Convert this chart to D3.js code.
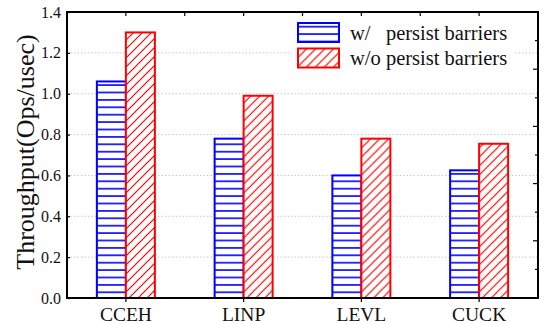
<!DOCTYPE html>
<html>
<head>
<meta charset="utf-8">
<script src="https://cdn.jsdelivr.net/npm/d3@7"></script>
<style>
  body { margin: 0; background: #fff; }
</style>
</head>
<body>
<svg id="chart" width="544" height="324"></svg>
<script>
// data
const categories = ["CCEH", "LINP", "LEVL", "CUCK"];
const seriesNames = ["w/   persist barriers", "w/o persist barriers"];
const withBarriers = [1.06, 0.78, 0.60, 0.625];
const withoutBarriers = [1.30, 0.99, 0.78, 0.755];
const yTicks = [0.0, 0.2, 0.4, 0.6, 0.8, 1.0, 1.2, 1.4];

const width = 544, height = 324;
const margin = { top: 12, right: 6, bottom: 26, left: 67 };
const plotW = width - margin.left - margin.right;
const plotH = height - margin.top - margin.bottom;
const serif = "Liberation Serif";

const svg = d3.select("#chart");

// hatch patterns
const defs = svg.append("defs");
const hp = defs.append("pattern")
    .attr("id", "hatch-h")
    .attr("patternUnits", "userSpaceOnUse")
    .attr("width", 8).attr("height", 7.4);
hp.append("rect").attr("width", 8).attr("height", 7.4).attr("fill", "#fff");
hp.append("line")
    .attr("x1", 0).attr("x2", 8).attr("y1", 3.7).attr("y2", 3.7)
    .attr("stroke", "#0000ff").attr("stroke-width", 1.6);

const dp = defs.append("pattern")
    .attr("id", "hatch-d")
    .attr("patternUnits", "userSpaceOnUse")
    .attr("width", 9).attr("height", 9);
dp.append("rect").attr("width", 9).attr("height", 9).attr("fill", "#fff");
dp.append("path")
    .attr("d", "M0,9 L9,0 M-2,2 L2,-2 M7,11 L11,7")
    .attr("stroke", "#ff0000").attr("stroke-width", 1.2);

const data = categories.map((c, i) => ({
    cat: c,
    values: [
        { key: 0, value: withBarriers[i] },
        { key: 1, value: withoutBarriers[i] }
    ]
}));

const x = d3.scaleBand()
    .domain(categories)
    .range([margin.left, margin.left + plotW])
    .padding(0);

const barW = 29;
const x1 = d3.scaleBand()
    .domain([0, 1])
    .range([x.bandwidth() / 2 - barW, x.bandwidth() / 2 + barW]);

const y = d3.scaleLinear()
    .domain([0, 1.4])
    .range([margin.top + plotH, margin.top]);

const colors = ["#0000ff", "#ff0000"];
const fills = ["url(#hatch-h)", "url(#hatch-d)"];

// dotted grid
svg.append("g")
    .selectAll("line")
    .data(yTicks.filter(d => d > 0 && d < 1.4))
    .join("line")
    .attr("x1", margin.left)
    .attr("x2", margin.left + plotW)
    .attr("y1", d => y(d))
    .attr("y2", d => y(d))
    .attr("stroke", "#c8c8c8")
    .attr("stroke-width", 1)
    .attr("stroke-dasharray", "1.5,2");

// bars
const groups = svg.append("g")
    .selectAll("g")
    .data(data)
    .join("g")
    .attr("transform", d => `translate(${x(d.cat)},0)`);

groups.selectAll("rect")
    .data(d => d.values)
    .join("rect")
    .attr("x", d => x1(d.key))
    .attr("width", x1.bandwidth())
    .attr("y", d => y(d.value))
    .attr("height", d => y(0) - y(d.value))
    .attr("fill", d => fills[d.key])
    .attr("stroke", d => colors[d.key])
    .attr("stroke-width", 2);

// axes
const axisLeft = svg.append("g")
    .attr("transform", `translate(${margin.left},0)`)
    .attr("font-family", serif)
    .call(d3.axisLeft(y).tickValues(yTicks).tickFormat(d3.format(".1f")).tickSizeInner(-3).tickSizeOuter(0).tickPadding(6));

axisLeft.attr("font-family", serif).attr("font-size", 16);
axisLeft.selectAll("text")
    .attr("fill", "#111")
    .style("font-family", serif);

const axisBottom = svg.append("g")
    .attr("transform", `translate(0,${margin.top + plotH})`)
    .call(d3.axisBottom(x).tickSizeInner(4).tickSizeOuter(0).tickPadding(5));

axisBottom.attr("font-family", serif).attr("font-size", 19.5);
axisBottom.selectAll("text")
    .attr("fill", "#111")
    .style("font-family", serif);

// top ticks at band centres and band edges
const topTicks = [];
categories.forEach((c, i) => {
    topTicks.push(x(c) + x.bandwidth() / 2);
    if (i > 0) topTicks.push(x(c));
});
svg.append("g")
    .selectAll("line")
    .data(topTicks)
    .join("line")
    .attr("x1", d => d).attr("x2", d => d)
    .attr("y1", margin.top).attr("y2", margin.top + 4)
    .attr("stroke", "#000").attr("stroke-width", 1.2);

// right ticks (own 10-step scale)
const yr = d3.scaleLinear().domain([0, 10]).range([margin.top + plotH, margin.top]);
svg.append("g")
    .selectAll("line")
    .data(d3.range(1, 10))
    .join("line")
    .attr("x1", margin.left + plotW)
    .attr("x2", d => margin.left + plotW - (d % 2 === 0 ? 5 : 3))
    .attr("y1", d => yr(d)).attr("y2", d => yr(d))
    .attr("stroke", "#000").attr("stroke-width", 1.2);

svg.selectAll(".domain").remove();
svg.selectAll(".tick line").attr("stroke", "#000").attr("stroke-width", 1.2);

// frame
svg.append("rect")
    .attr("x", margin.left).attr("y", margin.top)
    .attr("width", plotW).attr("height", plotH)
    .attr("fill", "none")
    .attr("stroke", "#000")
    .attr("stroke-width", 2);

// y label
svg.append("text")
    .attr("transform", `translate(34,152) rotate(-90)`)
    .attr("text-anchor", "middle")
    .attr("font-size", 26)
    .attr("fill", "#111")
    .style("font-family", serif)
    .text("Throughput(Ops/usec)");

// legend
const legend = svg.append("g").attr("transform", "translate(292,18)");
legend.append("rect")
    .attr("width", 222).attr("height", 54)
    .attr("fill", "#fff");
const li = legend.selectAll("g.item")
    .data(seriesNames)
    .join("g")
    .attr("class", "item")
    .attr("transform", (d, i) => `translate(6,${5 + i * 25.5})`);
li.append("rect")
    .attr("width", 41).attr("height", 19)
    .attr("fill", (d, i) => fills[i])
    .attr("stroke", (d, i) => colors[i])
    .attr("stroke-width", 2);
li.append("text")
    .attr("x", 52).attr("y", 16.5)
    .attr("font-size", 20.5)
    .attr("fill", "#111")
    .style("font-family", serif)
    .style("white-space", "pre")
    .text(d => d);
</script>
</body>
</html>
